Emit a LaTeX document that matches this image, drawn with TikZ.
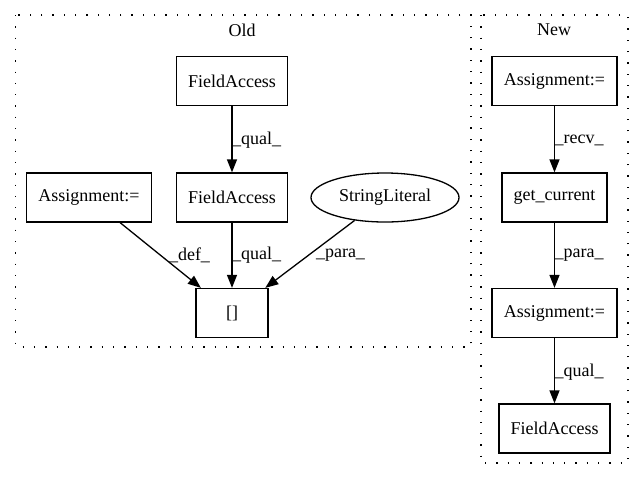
\documentclass[tikz,border=0pt]{standalone}
\usepackage{fontspec}
\setmainfont{Liberation Serif}
\usetikzlibrary{arrows.meta,shapes.geometric}
\begin{document}
\begin{tikzpicture}[x=1pt,y=-1pt,
  txt/.style={font=\fontsize{18}{21}\selectfont},
  box/.style={txt, draw, line width=1.3pt, minimum height=49pt, inner sep=0pt},
  ell/.style={txt, draw, ellipse, line width=1.3pt, minimum height=49pt, minimum width=148pt, inner sep=0pt},
  edge/.style={draw, line width=1.3pt, -{Triangle[length=13pt,width=10pt]}},
  lab/.style={txt, inner sep=0pt},
  cluster/.style={draw, line width=1.3pt, dash pattern=on 1.3pt off 10pt}
]
\useasboundingbox (0,0) rectangle (644,480);
% clusters
\draw[cluster] (15.6,15) rectangle (471,347);
\draw[cluster] (481,15) rectangle (628,463);
\node[lab] (oldlab) at (242,30) {Old};
\node[lab] (newlab) at (554,30) {New};
% Old nodes
\node[box, minimum width=111pt] (fa1) at (232,81) {FieldAccess};
\node[box, minimum width=111pt] (fa2) at (232,197.5) {FieldAccess};
\node[box, minimum width=125pt] (asg1) at (89,197.5) {Assignment:=};
\node[ell] (sl) at (385,197.5) {StringLiteral};
\node[box, minimum width=72pt] (br) at (232,313) {[]};
% New nodes
\node[box, minimum width=125pt] (asg2) at (554.5,81) {Assignment:=};
\node[box, minimum width=105pt] (gc) at (554.5,197.5) {get\_current};
\node[box, minimum width=125pt] (asg3) at (554.5,313) {Assignment:=};
\node[box, minimum width=111pt] (fa3) at (554.5,428.5) {FieldAccess};
% edges
\draw[edge] (fa1) -- (fa2);
\draw[edge] (asg1) -- (br);
\draw[edge] (fa2) -- (br);
\draw[edge] (sl) -- (br);
\draw[edge] (asg2) -- (gc);
\draw[edge] (gc) -- (asg3);
\draw[edge] (asg3) -- (fa3);
% edge labels
\node[lab, anchor=west] (l1) at (232,140) {\_qual\_};
\node[lab] (l2) at (189.5,255) {\_def\_};
\node[lab, anchor=west] (l3) at (232,255) {\_qual\_};
\node[lab] (l4) at (340.5,255) {\_para\_};
\node[lab, anchor=west] (l5) at (554.5,140) {\_recv\_};
\node[lab, anchor=west] (l6) at (554.5,255) {\_para\_};
\node[lab, anchor=west] (l7) at (554.5,372) {\_qual\_};
\end{tikzpicture}
\end{document}
